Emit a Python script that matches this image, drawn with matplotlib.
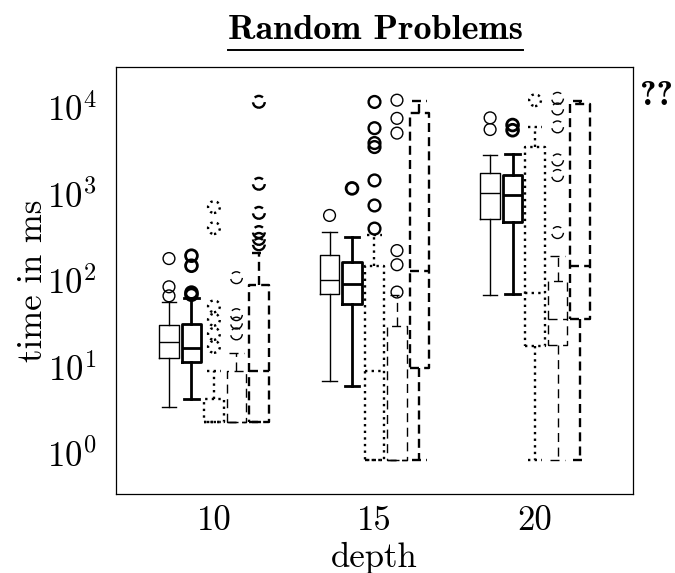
import numpy as np
import matplotlib
matplotlib.use("Agg")
import matplotlib.pyplot as plt
from matplotlib.lines import Line2D

plt.rcParams['font.family'] = 'serif'
plt.rcParams['font.serif'] = ['cmr10', 'DejaVu Serif']
plt.rcParams['mathtext.fontset'] = 'cm'
plt.rcParams['axes.formatter.use_mathtext'] = True

# Box stats: [whislo, q1, med, q3, whishi] per depth
depths = [10, 15, 20]

thin_solid = [[3.4, 12.6, 19.4, 30.5, 56], [6.8, 70, 101, 197, 365], [68, 515, 1030, 1720, 2760]]
thin_solid_fliers = [[66, 84, 178], [560], [5500, 7500]]

thick_solid = [[4.2, 11.4, 16.5, 31, 63], [6.0, 53, 91, 164, 318], [70, 475, 960, 1630, 2850]]
thick_solid_fliers = [[68, 72, 147, 192], [1150], [5400, 6200]]

thick_dotted = [[2.3, 2.3, 2.3, 4.3, 8.9], [0.83, 0.83, 8.9, 147, 336], [0.83, 17.4, 72, 3450, 5900]]
thick_dotted_fliers = [[17, 24, 35, 50, 400, 700], [395, 730, 1420, 3450, 3840, 5700, 11450], [12000]]

thin_dashed = [[2.3, 2.3, 2.3, 8.9, 14.4], [0.83, 0.83, 0.83, 30, 68], [0.83, 17.9, 36, 98, 192]]
thin_dashed_fliers = [[24, 32, 40, 107], [73, 151, 220, 5000, 7400, 12000], [355, 1620, 2450, 5900, 9500, 12600]]

thick_dashed = [[2.3, 2.3, 8.9, 88, 208], [0.83, 9.7, 129, 8500, 11700], [0.83, 36, 147, 10800, 11700]]
thick_dashed_fliers = [[260, 300, 360, 600, 1300, 11500], [], []]

series = [
    (thin_solid, thin_solid_fliers, -1.4, 1.0, '-'),
    (thick_solid, thick_solid_fliers, -0.7, 2.0, '-'),
    (thick_dotted, thick_dotted_fliers, 0.0, 1.7, (0, (1, 1.8))),
    (thin_dashed, thin_dashed_fliers, 0.7, 1.0, (0, (6.5, 4))),
    (thick_dashed, thick_dashed_fliers, 1.4, 1.7, (0, (3.8, 2.2))),
]

fig = plt.figure(figsize=(6.75, 5.73), dpi=100)
ax = fig.add_axes([116 / 675, 1 - 494 / 573, (633 - 116) / 675, (494 - 67) / 573])

for stats_rows, fliers, off, lw, ls in series:
    stats = []
    for row in stats_rows:
        stats.append(dict(whislo=row[0], q1=row[1], med=row[2], q3=row[3], whishi=row[4], fliers=[]))
    pos = [d + off for d in depths]
    style = dict(color='black', linewidth=lw, linestyle=ls)
    ax.bxp(stats, positions=pos, widths=0.6, capwidths=0.45, showfliers=False,
           boxprops=style, whiskerprops=style, capprops=style, medianprops=style,
           manage_ticks=False)
    for gi, (p, fl) in enumerate(zip(pos, fliers)):
        if not fl:
            continue
        # in the middle group the outlier circles come out solid
        fls = '-' if gi == 1 else ls
        ax.scatter([p] * len(fl), fl, s=72, marker='o', facecolors='none',
                   edgecolors='black', linewidths=lw, linestyles=fls, zorder=3)

ax.set_yscale('log')
ax.set_ylim(0.34, 29000)
ax.set_xlim(6.95, 23.05)
ax.set_xticks(depths)
ax.set_xticklabels([str(d) for d in depths])
ax.set_yticks([1, 10, 100, 1000, 10000])
ax.yaxis.set_minor_locator(matplotlib.ticker.NullLocator())
ax.tick_params(axis='both', length=0, labelsize=25)
ax.tick_params(axis='y', pad=14)
ax.tick_params(axis='x', pad=8)
ax.set_xlabel('depth', fontsize=25, labelpad=4)
ax.set_ylabel('time in ms', fontsize=25)
ax.yaxis.set_label_coords(-0.13, 0.5)
for sp in ax.spines.values():
    sp.set_linewidth(0.9)

title = fig.text(375 / 675, 1 - 39 / 573, 'Random Problems', fontfamily='cmb10',
                 fontsize=26, ha='center', va='baseline')
fig.text(640 / 675, 1 - 97 / 573, '??', fontfamily='cmb10', fontsize=25,
         ha='left', va='center')

fig.canvas.draw()
bb = title.get_window_extent()
yl = (bb.y0 - 4) / fig.bbox.height
fig.add_artist(Line2D([bb.x0 / fig.bbox.width, bb.x1 / fig.bbox.width], [yl, yl],
                      color='black', linewidth=1.4))

fig.savefig('out.png', dpi=100)
